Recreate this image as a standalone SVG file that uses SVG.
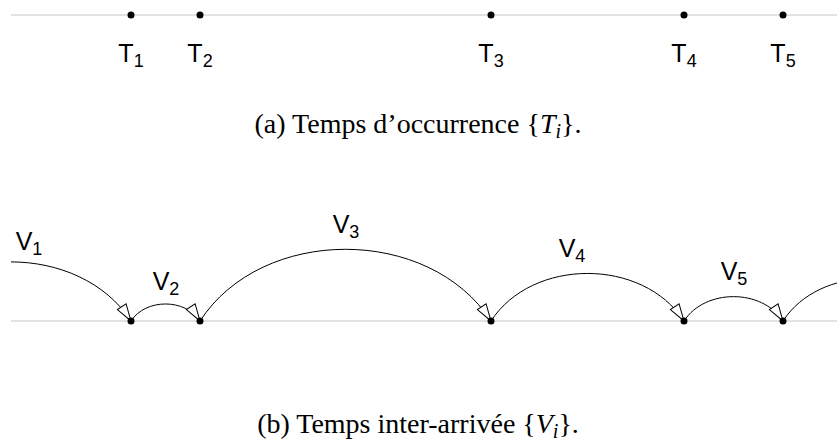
<svg xmlns="http://www.w3.org/2000/svg" width="837" height="445" viewBox="0 0 837 445">
<style>
.axis{stroke:#e3e3e3;stroke-width:2;fill:none}
.dot{fill:#000}
.lbl{font-family:"Liberation Sans",Arial,sans-serif;font-size:25px;fill:#000}
.sub{font-size:18px}
.arc{stroke:#000;stroke-width:1;fill:none}
.cap{font-family:"Liberation Serif","Times New Roman",serif;font-size:28px;fill:#000}
</style>
<defs>
<marker id="arr" markerWidth="22" markerHeight="14" refX="18" refY="7" orient="auto" markerUnits="userSpaceOnUse" overflow="visible">
<path d="M1,1.8 L18,7 L1,12.2 Z" fill="#fff" stroke="#000" stroke-width="1"/>
</marker>
<clipPath id="clipB"><rect x="11" y="0" width="826" height="445"/></clipPath>
</defs>

<g id="axis-a"><line class="axis" x1="11" y1="15" x2="837" y2="15"/></g>
<g id="T1"><circle class="dot" cx="131" cy="15" r="3.5"/><text class="lbl" x="131" y="62" text-anchor="middle">T<tspan class="sub" dy="5">1</tspan></text></g>
<g id="T2"><circle class="dot" cx="200" cy="15" r="3.5"/><text class="lbl" x="200" y="62" text-anchor="middle">T<tspan class="sub" dy="5">2</tspan></text></g>
<g id="T3"><circle class="dot" cx="491" cy="15" r="3.5"/><text class="lbl" x="491" y="62" text-anchor="middle">T<tspan class="sub" dy="5">3</tspan></text></g>
<g id="T4"><circle class="dot" cx="684" cy="15" r="3.5"/><text class="lbl" x="684" y="62" text-anchor="middle">T<tspan class="sub" dy="5">4</tspan></text></g>
<g id="T5"><circle class="dot" cx="783" cy="15" r="3.5"/><text class="lbl" x="783" y="62" text-anchor="middle">T<tspan class="sub" dy="5">5</tspan></text></g>
<g id="caption-a"><text class="cap" x="418" y="133" text-anchor="middle">(a) Temps d’occurrence {<tspan font-style="italic">T</tspan><tspan font-style="italic" font-size="20" dy="5">i</tspan><tspan dy="-5">}.</tspan></text></g>

<g id="axis-b"><line class="axis" x1="11" y1="321" x2="837" y2="321"/></g>
<g id="connectors" clip-path="url(#clipB)">
<path class="arc" d="M-109,321 C-57.8,242.2 79.8,242.2 131,321" marker-end="url(#arr)"/>
<path class="arc" d="M131,321 C145.7,298.3 185.3,298.3 200,321" marker-end="url(#arr)"/>
<path class="arc" d="M200,321 C262.1,225.4 428.9,225.4 491,321" marker-end="url(#arr)"/>
<path class="arc" d="M491,321 C532.2,257.6 642.8,257.6 684,321" marker-end="url(#arr)"/>
<path class="arc" d="M684,321 C705.1,288.5 761.9,288.5 783,321" marker-end="url(#arr)"/>
<path class="arc" d="M783,321 C819.7,264.5 918.3,264.5 955,321"/>
</g>
<g id="P1"><circle class="dot" cx="131" cy="321" r="3.5"/></g>
<g id="P2"><circle class="dot" cx="200" cy="321" r="3.5"/></g>
<g id="P3"><circle class="dot" cx="491" cy="321" r="3.5"/></g>
<g id="P4"><circle class="dot" cx="684" cy="321" r="3.5"/></g>
<g id="P5"><circle class="dot" cx="783" cy="321" r="3.5"/></g>
<g id="V1"><text class="lbl" x="29" y="250" text-anchor="middle">V<tspan class="sub" dy="5">1</tspan></text></g>
<g id="V2"><text class="lbl" x="166" y="290" text-anchor="middle">V<tspan class="sub" dy="5">2</tspan></text></g>
<g id="V3"><text class="lbl" x="346" y="233" text-anchor="middle">V<tspan class="sub" dy="5">3</tspan></text></g>
<g id="V4"><text class="lbl" x="572" y="257" text-anchor="middle">V<tspan class="sub" dy="5">4</tspan></text></g>
<g id="V5"><text class="lbl" x="734" y="280" text-anchor="middle">V<tspan class="sub" dy="5">5</tspan></text></g>
<g id="caption-b"><text class="cap" x="418" y="433" text-anchor="middle">(b) Temps inter-arrivée {<tspan font-style="italic">V</tspan><tspan font-style="italic" font-size="20" dy="5">i</tspan><tspan dy="-5">}.</tspan></text></g>
</svg>
